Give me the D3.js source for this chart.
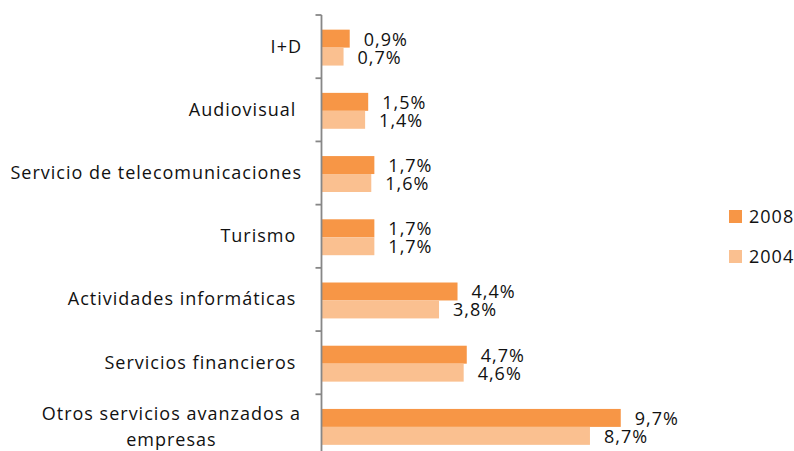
<!DOCTYPE html>
<html>
<head>
<meta charset="utf-8">
<script src="https://cdn.jsdelivr.net/npm/d3@7"></script>
<style>
  html, body { margin: 0; padding: 0; background: #fff; }
  svg { display: block; }
  text { font-family: "Open Sans", "Noto Sans", sans-serif; fill: #111; white-space: pre; letter-spacing: 1px; }
</style>
</head>
<body>
<svg id="chart" width="794" height="451"></svg>
<script>
const categories = ["I+D", "Audiovisual ", "Servicio de telecomunicaciones", "Turismo ", "Actividades informáticas ", "Servicios financieros ", "Otros servicios avanzados a\nempresas"];
const seriesNames = ["2008", "2004"];
const values2008 = [0.9, 1.5, 1.7, 1.7, 4.4, 4.7, 9.7];
const values2004 = [0.7, 1.4, 1.6, 1.7, 3.8, 4.6, 8.7];
const valueLabels2008 = ["0,9%", "1,5%", "1,7%", "1,7%", "4,4%", "4,7%", "9,7%"];
const valueLabels2004 = ["0,7%", "1,4%", "1,6%", "1,7%", "3,8%", "4,6%", "8,7%"];
const colors = { "2008": "#F79646", "2004": "#FAC090" };

const data = categories.map((c, i) => ({
  cat: c,
  series: [
    { key: "2008", v: values2008[i], label: valueLabels2008[i] },
    { key: "2004", v: values2004[i], label: valueLabels2004[i] }
  ]
}));

const svg = d3.select("#chart");
const fontSize = 18;

const x = d3.scaleLinear().domain([0, 10]).range([322, 630]);
const y = d3.scaleBand().domain(categories).range([15, 457.5]).padding(0);
const ySub = d3.scaleBand().domain(seriesNames).range([0, y.bandwidth()]).paddingInner(0).paddingOuter(0.76);

// bars
const groups = svg.append("g").selectAll("g").data(data).join("g")
  .attr("transform", d => `translate(0,${y(d.cat) + 1})`);

groups.selectAll("rect").data(d => d.series).join("rect")
  .attr("x", x(0))
  .attr("y", s => ySub(s.key))
  .attr("width", s => x(s.v) - x(0))
  .attr("height", ySub.bandwidth())
  .attr("fill", s => colors[s.key]);

groups.selectAll("text.val").data(d => d.series).join("text")
  .attr("class", "val")
  .attr("x", s => x(s.v) + 14)
  .attr("y", s => ySub(s.key) + ySub.bandwidth() / 2 + 7)
  .attr("font-size", fontSize)
  .text(s => s.label);

// axis
const axis = d3.axisLeft(y).tickSize(0).tickFormat("");
const axG = svg.append("g").attr("transform", `translate(${x(0) - 0.5},0)`).call(axis);
axG.select(".domain").attr("stroke", "#878787").attr("stroke-width", 1.8).attr("d", `M0,${y.range()[0]}V${y.range()[1]}`);
axG.selectAll(".tick").remove();

// tick marks at band boundaries
const bounds = categories.map(c => y(c)).concat([y.range()[1]]);
axG.selectAll("line.bt").data(bounds).join("line")
  .attr("class", "bt")
  .attr("x1", -6).attr("x2", 0)
  .attr("y1", d => d).attr("y2", d => d)
  .attr("stroke", "#878787").attr("stroke-width", 1.8);

// category labels
const labelX = 300;
const catG = svg.append("g");
categories.forEach(c => {
  const lines = c.split("\n");
  const cy = y(c) + y.bandwidth() / 2;
  if (lines.length === 1) {
    catG.append("text")
      .attr("x", labelX + 2).attr("y", cy + 6)
      .attr("text-anchor", "end").attr("font-size", fontSize)
      .text(lines[0]);
  } else {
    const t1 = catG.append("text")
      .attr("x", labelX + 1).attr("y", cy - 6)
      .attr("text-anchor", "end").attr("font-size", fontSize)
      .text(lines[0]);
    const w1 = t1.node().getComputedTextLength();
    catG.append("text")
      .attr("x", labelX + 1 - w1 / 2).attr("y", cy + 20)
      .attr("text-anchor", "middle").attr("font-size", fontSize)
      .text(lines[1]);
  }
});

// legend
const legend = svg.append("g").selectAll("g").data(seriesNames).join("g")
  .attr("transform", (d, i) => `translate(729,${210 + i * 40})`);
legend.append("rect").attr("width", 13).attr("height", 13).attr("fill", d => colors[d]);
legend.append("text").attr("x", 20).attr("y", 13).attr("font-size", fontSize).text(d => d);
</script>
</body>
</html>
